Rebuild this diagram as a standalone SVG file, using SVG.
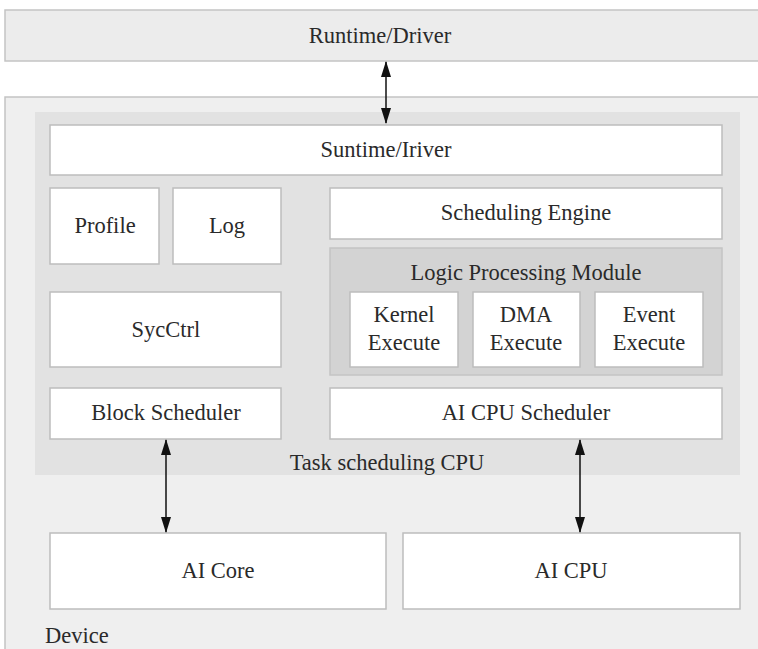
<svg xmlns="http://www.w3.org/2000/svg" width="758" height="649" viewBox="0 0 758 649">
<defs>
<marker id="ah" viewBox="0 0 16 10" refX="15" refY="5" markerWidth="16" markerHeight="10" markerUnits="userSpaceOnUse" orient="auto-start-reverse">
<path d="M0,0 L16,5 L0,10 Z" fill="#111"/>
</marker>
<style>
text{font-size:22.5px;fill:#2a2a2a;text-anchor:middle}
.w{fill:#ffffff;stroke:#bdbdbd;stroke-width:1.5}
.conn line{stroke:#111;stroke-width:1.5;marker-start:url(#ah);marker-end:url(#ah)}
</style>
</defs>
<rect width="758" height="649" fill="#ffffff"/>
<g font-family="'Liberation Serif', 'Times New Roman', 'DejaVu Serif', serif">
<g id="runtime-driver">
<rect x="5" y="10" width="760" height="51" fill="#ececec" stroke="#c4c4c4" stroke-width="1.5"/>
<text x="380" y="43">Runtime/Driver</text>
</g>
<g id="device">
<rect x="5" y="97" width="760" height="560" fill="#efefef" stroke="#c4c4c4" stroke-width="1.5"/>
<text x="45" y="643" style="text-anchor:start">Device</text>
</g>
<g id="task-scheduling-cpu">
<rect x="35" y="112" width="705" height="363" fill="#e2e2e2"/>
<text x="387" y="470">Task scheduling CPU</text>
</g>
<g id="suntime-iriver">
<rect class="w" x="50" y="125" width="672" height="50"/>
<text x="386" y="157">Suntime/Iriver</text>
</g>
<g id="profile">
<rect class="w" x="50" y="188" width="109" height="76"/>
<text x="105" y="233">Profile</text>
</g>
<g id="log">
<rect class="w" x="173" y="188" width="108" height="76"/>
<text x="227" y="233">Log</text>
</g>
<g id="scheduling-engine">
<rect class="w" x="330" y="188" width="392" height="51"/>
<text x="526" y="220">Scheduling Engine</text>
</g>
<g id="logic-processing-module">
<rect x="330" y="248" width="392" height="127" fill="#d3d3d3" stroke="#c4c4c4" stroke-width="1.5"/>
<text x="526" y="280">Logic Processing Module</text>
</g>
<g id="kernel-execute">
<rect class="w" x="350" y="292" width="108" height="75"/>
<text x="404" y="322">Kernel</text>
<text x="404" y="350">Execute</text>
</g>
<g id="dma-execute">
<rect class="w" x="473" y="292" width="107" height="75"/>
<text x="526" y="322">DMA</text>
<text x="526" y="350">Execute</text>
</g>
<g id="event-execute">
<rect class="w" x="595" y="292" width="108" height="75"/>
<text x="649" y="322">Event</text>
<text x="649" y="350">Execute</text>
</g>
<g id="sycctrl">
<rect class="w" x="50" y="292" width="231" height="75"/>
<text x="166" y="337">SycCtrl</text>
</g>
<g id="block-scheduler">
<rect class="w" x="50" y="388" width="231" height="51"/>
<text x="166" y="420">Block Scheduler</text>
</g>
<g id="ai-cpu-scheduler">
<rect class="w" x="330" y="388" width="392" height="51"/>
<text x="526" y="420">AI CPU Scheduler</text>
</g>
<g id="ai-core">
<rect class="w" x="50" y="533" width="336" height="76"/>
<text x="218" y="578">AI Core</text>
</g>
<g id="ai-cpu">
<rect class="w" x="403" y="533" width="337" height="76"/>
<text x="571" y="578">AI CPU</text>
</g>
</g>
<g id="connectors" class="conn">
<line x1="386" y1="62" x2="386" y2="123"/>
<line x1="166" y1="440" x2="166" y2="532"/>
<line x1="580" y1="440" x2="580" y2="532"/>
</g>
</svg>
